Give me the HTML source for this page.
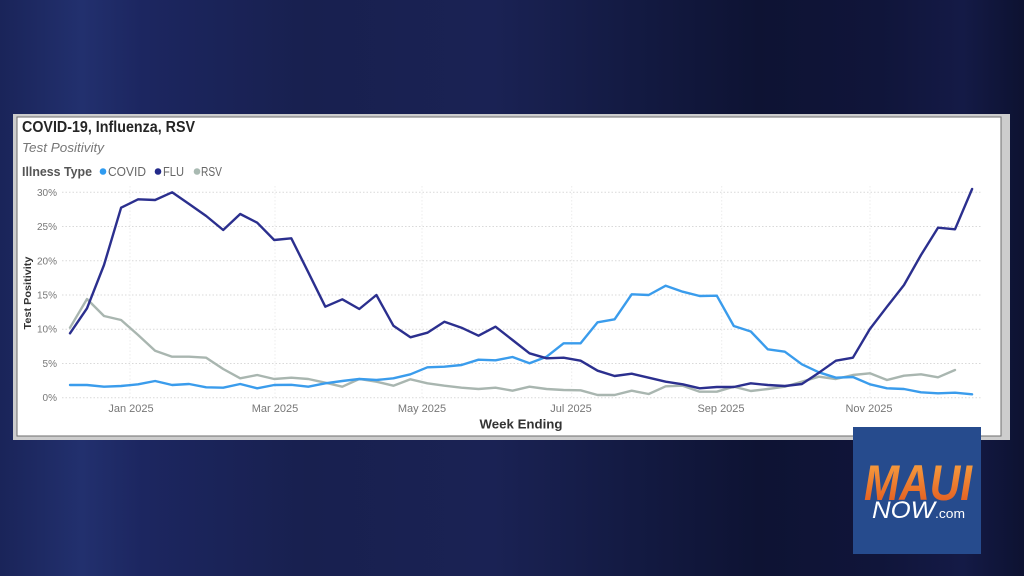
<!DOCTYPE html>
<html><head><meta charset="utf-8"><style>
html,body{margin:0;padding:0;}
body{width:1024px;height:576px;overflow:hidden;position:relative;
background:linear-gradient(90deg,#1a2459 0%,#22306e 8%,#1c2660 14%,#18204f 30%,#1a2254 48%,#131a42 62%,#0e1333 74%,#10153a 86%,#141a46 94%,#0d1231 100%);
font-family:"Liberation Sans",sans-serif;}
svg{position:absolute;left:0;top:0;}
</style></head><body>
<svg width="1024" height="576" viewBox="0 0 1024 576" xmlns="http://www.w3.org/2000/svg">
<defs>
<linearGradient id="og" x1="0" y1="0" x2="0" y2="1">
<stop offset="0" stop-color="#f9a843"/><stop offset="1" stop-color="#e0531d"/>
</linearGradient>
</defs>
<!-- frame -->
<rect x="13" y="114" width="997" height="326" fill="#cdcdcd"/>
<rect x="17" y="117" width="984" height="319" fill="#ffffff" stroke="#6e6e6e" stroke-width="1"/>

<!-- titles -->
<text x="22" y="132" font-size="16" font-weight="bold" fill="#252525" textLength="173" lengthAdjust="spacingAndGlyphs">COVID-19, Influenza, RSV</text>
<text x="22" y="152" font-size="13" font-style="italic" fill="#777" textLength="82" lengthAdjust="spacingAndGlyphs">Test Positivity</text>
<text x="22" y="176" font-size="12.5" font-weight="bold" fill="#555" textLength="70" lengthAdjust="spacingAndGlyphs">Illness Type</text>
<circle cx="103" cy="171.5" r="3.3" fill="#2f9bf0"/>
<text x="108" y="176" font-size="12.5" fill="#666" textLength="38" lengthAdjust="spacingAndGlyphs">COVID</text>
<circle cx="158" cy="171.5" r="3.3" fill="#232a8a"/>
<text x="163" y="176" font-size="12.5" fill="#666" textLength="21" lengthAdjust="spacingAndGlyphs">FLU</text>
<circle cx="197" cy="171.5" r="3.3" fill="#a9bab2"/>
<text x="201" y="176" font-size="12.5" fill="#666" textLength="21" lengthAdjust="spacingAndGlyphs">RSV</text>

<!-- grid -->
<g stroke="#d9d9d9" stroke-width="1" stroke-dasharray="1.5,2">
<line x1="62" y1="192.3" x2="982" y2="192.3"/>
<line x1="62" y1="226.5" x2="982" y2="226.5"/>
<line x1="62" y1="260.8" x2="982" y2="260.8"/>
<line x1="62" y1="295" x2="982" y2="295"/>
<line x1="62" y1="329.2" x2="982" y2="329.2"/>
<line x1="62" y1="363.5" x2="982" y2="363.5"/>
<line x1="62" y1="397.7" x2="982" y2="397.7"/>
</g>
<g stroke="#ececec" stroke-width="1" stroke-dasharray="1.5,2">
<line x1="130" y1="186" x2="130" y2="398"/>
<line x1="275" y1="186" x2="275" y2="398"/>
<line x1="422" y1="186" x2="422" y2="398"/>
<line x1="571.7" y1="186" x2="571.7" y2="398"/>
<line x1="721.7" y1="186" x2="721.7" y2="398"/>
<line x1="870" y1="186" x2="870" y2="398"/>
</g>

<!-- y tick labels -->
<g font-size="10" fill="#777" text-anchor="end">
<text x="57" y="195.8">30%</text>
<text x="57" y="230">25%</text>
<text x="57" y="264.3">20%</text>
<text x="57" y="298.5">15%</text>
<text x="57" y="332.7">10%</text>
<text x="57" y="367">5%</text>
<text x="57" y="401.2">0%</text>
</g>
<text transform="translate(31,293) rotate(-90)" font-size="10.5" font-weight="bold" fill="#333" text-anchor="middle" textLength="73" lengthAdjust="spacingAndGlyphs">Test Positivity</text>

<!-- x labels -->
<g font-size="11" fill="#777" text-anchor="middle">
<text x="131" y="412">Jan 2025</text>
<text x="275" y="412">Mar 2025</text>
<text x="422" y="412">May 2025</text>
<text x="571" y="412">Jul 2025</text>
<text x="721" y="412">Sep 2025</text>
<text x="869" y="412">Nov 2025</text>
</g>
<text x="521" y="428.5" font-size="13" font-weight="bold" fill="#333" text-anchor="middle" textLength="83" lengthAdjust="spacingAndGlyphs">Week Ending</text>

<!-- series -->
<g fill="none" stroke-width="2.4" stroke-linejoin="round" stroke-linecap="round">
<polyline stroke="#a9b6b0" points="70,327.7 87,299 104,316 121.1,320 138.1,335 155.1,350.7 172.1,356.7 189.1,356.7 206.2,357.7 223.2,369 240.2,378.3 257.2,375 274.2,379 291.3,377.7 308.3,379 325.3,382.7 342.3,386.7 359.3,379 376.4,381.7 393.4,385.7 410.4,379.3 427.4,383.3 444.4,385.7 461.5,387.7 478.5,389 495.5,387.7 512.5,390.7 529.5,386.7 546.6,389 563.6,390 580.6,390.3 597.6,395 614.6,395 631.7,390.7 648.7,394 665.7,386.3 682.7,385.7 699.7,391.7 716.8,391.7 733.8,386.7 750.8,391 767.8,389 784.8,386.7 801.9,381.7 818.9,376.7 835.9,379 852.9,375 869.9,373.3 887,380 904,375.7 921,374.3 938,377.3 955,370"/>
<polyline stroke="#3a9cec" points="70,385 87,385 104,386.7 121.1,386 138.1,384.3 155.1,381 172.1,385 189.1,384 206.2,387.3 223.2,387.7 240.2,384 257.2,388.3 274.2,385 291.3,384.8 308.3,386.7 325.3,383.3 342.3,381 359.3,379 376.4,380 393.4,378.3 410.4,374.3 427.4,367.3 444.4,366.7 461.5,365 478.5,359.7 495.5,360.3 512.5,357 529.5,363.3 546.6,356.7 563.6,343.3 580.6,343.3 597.6,322.3 614.6,319.3 631.7,294.3 648.7,295 665.7,285.7 682.7,291.7 699.7,296 716.8,295.7 733.8,326 750.8,331.5 767.8,349.3 784.8,351.7 801.9,364.3 818.9,372.3 835.9,377.7 852.9,377 869.9,384.3 887,388.3 904,389 921,392.3 938,393.3 955,392.7 972.1,394.3"/>
<polyline stroke="#2b2f8e" points="70,333.3 87,308.3 104,265 121.1,207.7 138.1,199.3 155.1,200 172.1,192.3 189.1,204 206.2,216 223.2,230 240.2,214 257.2,222.7 274.2,240 291.3,238.3 308.3,272.3 325.3,306.7 342.3,299.3 359.3,309 376.4,295 393.4,325.7 410.4,337.3 427.4,332.7 444.4,321.7 461.5,327.7 478.5,335.7 495.5,326.7 512.5,340 529.5,353.3 546.6,358.3 563.6,357.7 580.6,360.7 597.6,370.7 614.6,376 631.7,373.7 648.7,377.7 665.7,381.7 682.7,384.3 699.7,388.3 716.8,387 733.8,387 750.8,383.3 767.8,385 784.8,386 801.9,384 818.9,372.7 835.9,360.7 852.9,357.7 869.9,329 887,306.7 904,285 921,255 938,227.7 955,229.3 972.1,189"/>
</g>

<!-- logo -->
<rect x="853" y="427" width="128" height="127" fill="#264b8d"/>
<text x="864" y="500" font-size="50" font-weight="bold" font-style="italic" fill="url(#og)" textLength="108" lengthAdjust="spacingAndGlyphs">MAUI</text>
<text x="872" y="518" font-size="24" font-style="italic" fill="#ffffff" textLength="63" lengthAdjust="spacingAndGlyphs">NOW</text>
<text x="935" y="518" font-size="13" fill="#ffffff" textLength="30" lengthAdjust="spacingAndGlyphs">.com</text>
</svg>
</body></html>
